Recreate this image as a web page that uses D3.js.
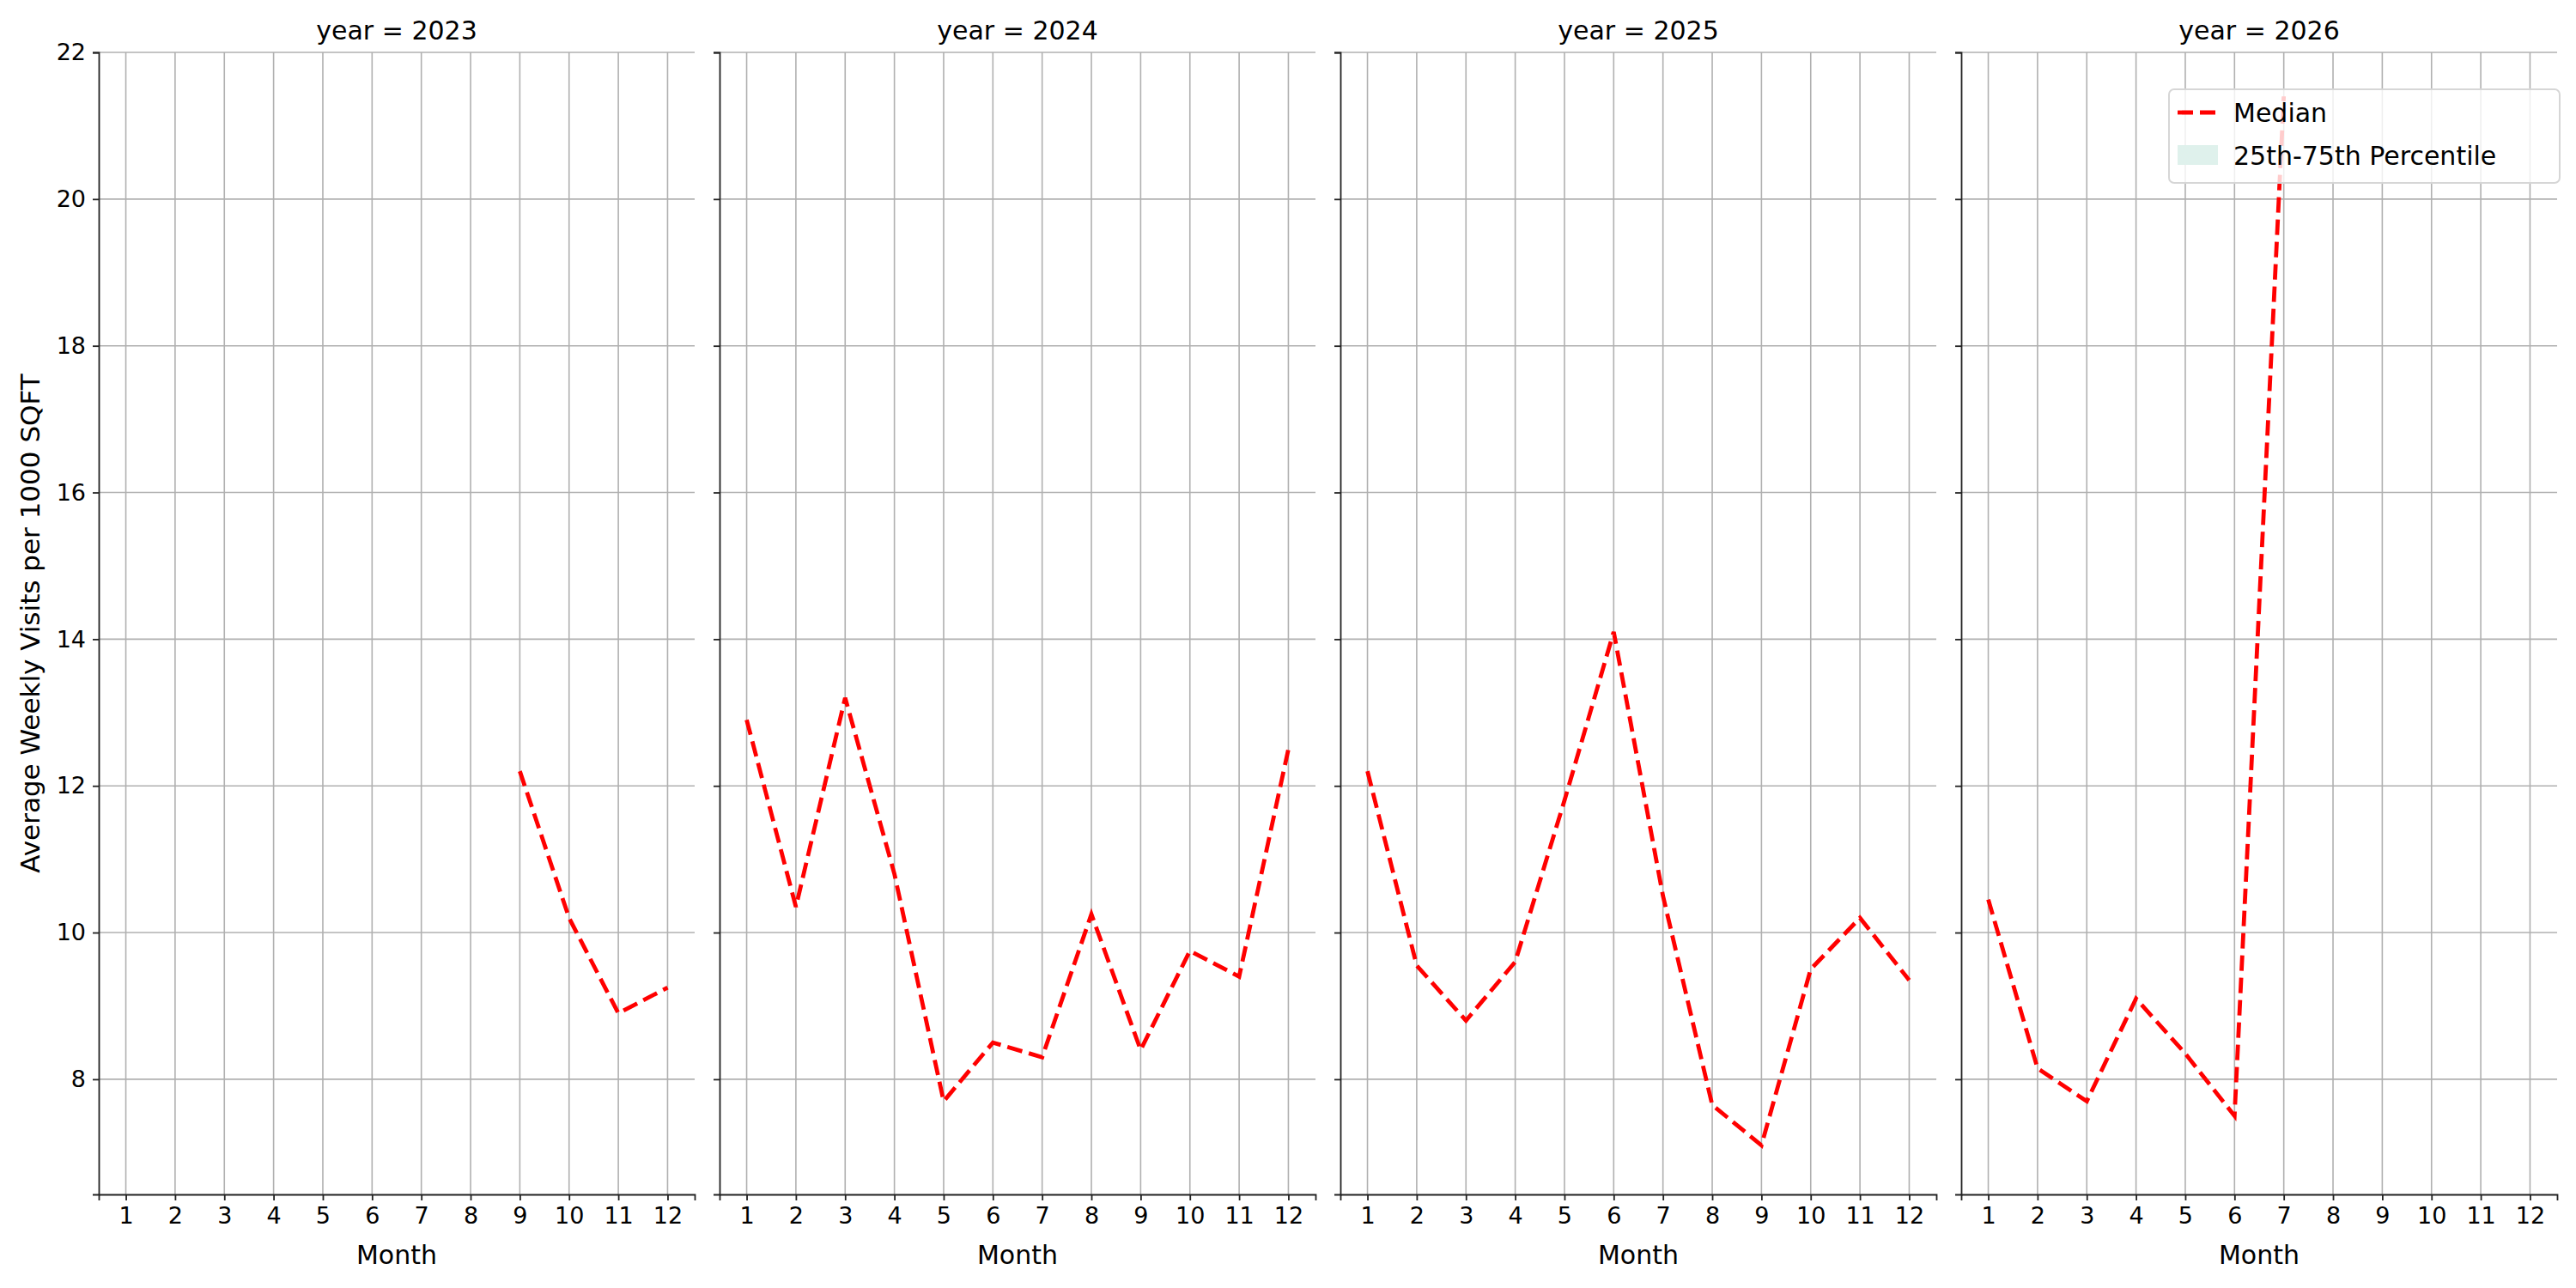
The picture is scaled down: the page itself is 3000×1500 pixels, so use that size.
<!DOCTYPE html>
<html><head><meta charset="utf-8">
<script src="https://cdn.jsdelivr.net/npm/d3@7"></script>
<style>body{margin:0;background:#fff}text{font-family:"DejaVu Sans",sans-serif}</style>
</head><body><svg id="c"></svg>
<script>
// values
var years = [2023, 2024, 2025, 2026];
var months = [1,2,3,4,5,6,7,8,9,10,11,12];
var median2023 = [null,null,null,null,null,null,null,null,12.2,10.2,8.9,9.25];
var median2024 = [12.9,10.35,13.2,10.8,7.7,8.5,8.3,10.25,8.4,9.75,9.4,12.5];
var median2025 = [12.2,9.55,8.8,9.6,11.8,14.1,10.5,7.65,7.1,9.5,10.2,9.35];
var median2026 = [10.45,8.15,7.7,9.1,8.35,7.5,21.4,null,null,null,null,null];
var yTicks = [8,10,12,14,16,18,20,22];
var series = [median2023, median2024, median2025, median2026];

var width = 3000, height = 1500;
var svg = d3.select('#c').attr('width', width).attr('height', height);

var panelLeft = [115, 838, 1561, 2284], panelW = 694;
var plotTop = 61, plotBottom = 1391;

var y = d3.scaleLinear().domain([6.43, 22]).range([plotBottom, plotTop]);

years.forEach(function(yr, i) {
  var x = d3.scaleLinear().domain([0.45, 12.55]).range([panelLeft[i], panelLeft[i] + panelW]);
  var g = svg.append('g');

  // grid
  g.selectAll('.vg').data(months).enter().append('line')
    .attr('x1', d => x(d)).attr('x2', d => x(d)).attr('y1', plotTop).attr('y2', plotBottom)
    .attr('stroke', '#b0b0b0').attr('stroke-width', 1.6);
  g.selectAll('.hg').data(yTicks).enter().append('line')
    .attr('x1', panelLeft[i]).attr('x2', panelLeft[i] + panelW).attr('y1', d => y(d)).attr('y2', d => y(d))
    .attr('stroke', '#b0b0b0').attr('stroke-width', 1.6);

  var xa = g.append('g').attr('transform', 'translate(0,' + plotBottom + ')')
    .call(d3.axisBottom(x).tickValues(months).tickSize(7).tickPadding(8));
  var ya = g.append('g').attr('transform', 'translate(' + panelLeft[i] + ',0)')
    .call(d3.axisLeft(y).tickValues(yTicks).tickSize(7).tickPadding(8).tickFormat(i === 0 ? d3.format('d') : ''));
  [xa, ya].forEach(function(a) {
    a.select('.domain').attr('stroke', '#222').attr('stroke-width', 1.8);
    a.selectAll('.tick line').attr('stroke', '#222').attr('stroke-width', 1.8);
    a.selectAll('text').attr('font-size', 27).attr('fill', '#000').attr('font-family', 'DejaVu Sans');
  });

  var line = d3.line().defined(d => d[1] != null).x(d => x(d[0])).y(d => y(d[1]));
  g.append('path').datum(months.map((m, k) => [m, series[i][k]]))
    .attr('d', line).attr('fill', 'none').attr('stroke', '#ff0000')
    .attr('stroke-width', 4.8).attr('stroke-dasharray', '18,8');

  g.append('text').attr('x', panelLeft[i] + panelW / 2).attr('y', 46).attr('text-anchor', 'middle')
    .attr('font-size', 30).text('year = ' + yr);
  g.append('text').attr('x', panelLeft[i] + panelW / 2).attr('y', 1472).attr('text-anchor', 'middle')
    .attr('font-size', 30).text('Month');
});

svg.append('text').attr('transform', 'translate(46,' + ((plotTop + plotBottom) / 2) + ') rotate(-90)')
  .attr('text-anchor', 'middle').attr('font-size', 31).text('Average Weekly Visits per 1000 SQFT');

// legend
var lg = svg.append('g').attr('transform', 'translate(2526,104)');
lg.append('rect').attr('width', 455).attr('height', 109).attr('rx', 6)
  .attr('fill', 'rgba(255,255,255,0.8)').attr('stroke', '#d6d6d6').attr('stroke-width', 2);
lg.append('line').attr('x1', 10).attr('x2', 56).attr('y1', 27).attr('y2', 27)
  .attr('stroke', '#ff0000').attr('stroke-width', 4.8).attr('stroke-dasharray', '18,8');
lg.append('rect').attr('x', 10).attr('y', 65).attr('width', 47).attr('height', 23).attr('fill', '#dff1ec');
lg.append('text').attr('x', 75).attr('y', 38).attr('font-size', 30).text('Median');
lg.append('text').attr('x', 75).attr('y', 88).attr('font-size', 30).text('25th-75th Percentile');
</script></body></html>
